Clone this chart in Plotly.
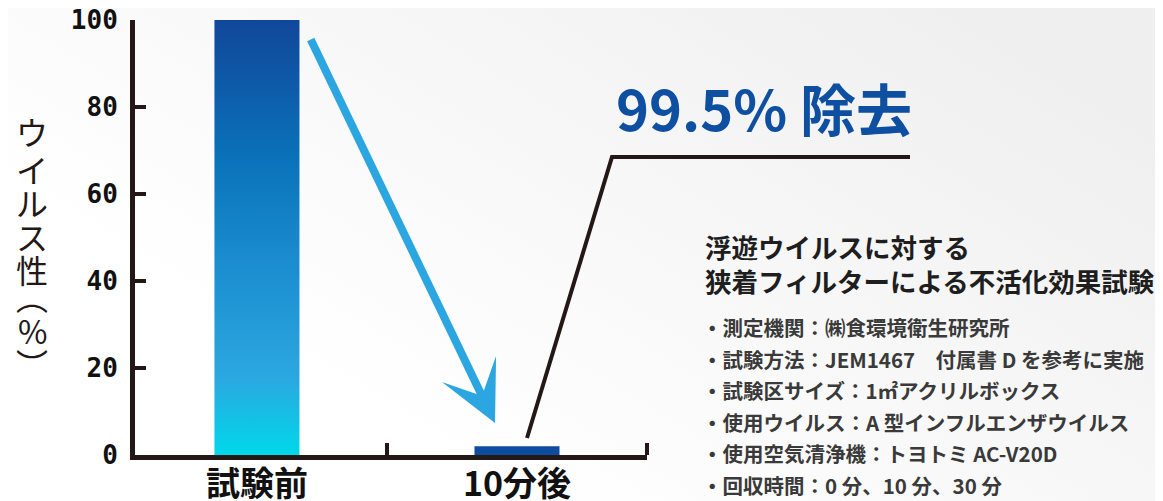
import base64
import plotly.graph_objects as go

# ---------------- data ----------------
categories = ["試験前", "10分後"]
virus_pct = [100, 2]           # (after-bar drawn ~2 units tall)
y_ticks = [0, 20, 40, 60, 80, 100]
y_title = "ウイルス性︵%︶"
headline = "99.5% 除去"
info_title = ["浮遊ウイルスに対する", "狭着フィルターによる不活化効果試験"]
info_items = [
    "・測定機関：㈱食環境衛生研究所",
    "・試験方法：JEM1467　付属書 D を参考に実施",
    "・試験区サイズ：1㎡アクリルボックス",
    "・使用ウイルス：A 型インフルエンザウイルス",
    "・使用空気清浄機：トヨトミ AC-V20D",
    "・回収時間：0 分、10 分、30 分",
]

# ---------------- layout geometry ----------------
W, H = 1163, 501
OFF = 8                       # page body offset of the figure
ML, MT = 135 - OFF, 20 - OFF
PLOT_R, PLOT_B = 647 - OFF, 455 - OFF
MR, MB = W - PLOT_R, H - PLOT_B
PW, PH = W - ML - MR, H - MT - MB
BAR_W = 0.327
X_RANGE = [-0.469, 1.5]

def px(x):
    return (x - OFF - ML) / PW

def py(y):
    return (PLOT_B - (y - OFF)) / PH

JP = "Noto Sans CJK JP"
DARK = "#231815"

bar_scales = [
    [[0, "#00D8EA"], [0.18, "#2BA7E0"], [0.45, "#1A8CCF"], [0.68, "#0A72BA"], [1, "#11479A"]],
    [[0, "#0D4C9E"], [1, "#0D4C9E"]],
]

fig = go.Figure()
for i, (cat, val) in enumerate(zip(categories, virus_pct)):
    fig.add_trace(go.Scatter(
        x=[i - BAR_W / 2, i + BAR_W / 2], y=[val, val],
        mode="lines", line=dict(width=0), fill="tozeroy",
        fillgradient=dict(type="vertical", colorscale=bar_scales[i]),
        name=cat, hoverinfo="skip", showlegend=False,
    ))

# background gradient image
svg = f'''<svg xmlns="http://www.w3.org/2000/svg" width="{W}" height="{H}" viewBox="0 0 {W} {H}">
<defs><linearGradient id="g" gradientUnits="userSpaceOnUse" x1="560" y1="520" x2="900" y2="-40">
<stop offset="0" stop-color="#ffffff"/><stop offset="1" stop-color="#efefef"/></linearGradient></defs>
<rect width="{W}" height="{H}" fill="url(#g)"/></svg>'''
src = "data:image/svg+xml;base64," + base64.b64encode(svg.encode()).decode()

annotations = []
# vertical y-axis title, one glyph per line
y_pos = [131, 169, 202, 236, 269, 296, 330, 363]
for ch, yy in zip(y_title, y_pos):
    annotations.append(dict(
        text=ch, x=px(32), y=py(yy), xref="paper", yref="paper",
        xanchor="center", yanchor="middle", showarrow=False,
        font=dict(family=JP, size=32, color="#231815"),
    ))

# headline
annotations.append(dict(
    text=headline, x=px(764), y=py(106), xref="paper", yref="paper",
    xanchor="center", yanchor="middle", showarrow=False,
    font=dict(family=JP, size=56, color="#0E4FA1", weight="bold"),
))
# info title
annotations.append(dict(
    text="<br>".join(info_title), x=px(703), y=py(263), xref="paper", yref="paper",
    xanchor="left", yanchor="middle", align="left", showarrow=False,
    font=dict(family=JP, size=26.5, color="#1e1e1e", weight="bold"),
))
# bullet lines
item_y = [327, 359, 390, 422, 453, 485]
for txt, yy in zip(info_items, item_y):
    annotations.append(dict(
        text=txt, x=px(700), y=py(yy), xref="paper", yref="paper",
        xanchor="left", yanchor="middle", align="left", showarrow=False,
        font=dict(family=JP, size=20.5, color="#3a3a3a", weight="bold"),
    ))

# blue arrow
annotations.append(dict(
    text="", x=px(495), y=py(423), xref="paper", yref="paper",
    ax=310 - 495, ay=38 - 423, showarrow=True,
    arrowhead=3, arrowsize=1.25, arrowwidth=8, arrowcolor="#2CA6E0",
))

shapes = [dict(
    type="path", xref="paper", yref="paper",
    path=f"M{px(527)},{py(438)} L{px(612)},{py(157)} L{px(910)},{py(157)}",
    line=dict(color=DARK, width=4),
)]

fig.update_layout(
    width=W, height=H,
    margin=dict(l=ML, r=MR, t=MT, b=MB, pad=0, autoexpand=False),
    paper_bgcolor="white", plot_bgcolor="rgba(0,0,0,0)",
    showlegend=False,
    images=[dict(source=src, xref="paper", yref="paper",
                 x=-ML / PW, y=1 + MT / PH, sizex=W / PW, sizey=H / PH,
                 xanchor="left", yanchor="top", sizing="stretch", layer="below")],
    annotations=annotations,
    shapes=shapes,
    xaxis=dict(
        range=X_RANGE, tickvals=list(range(len(categories))), ticktext=categories,
        showgrid=False, zeroline=False, showline=True, linewidth=5, linecolor=DARK,
        ticks="", ticklabelstandoff=-5, ticklabeloverflow="allow",
        tickfont=dict(family=JP, size=34, color="#111", weight="bold"),
        minor=dict(tickvals=[0.5, 1.5], ticks="inside", ticklen=12, tickwidth=4, tickcolor=DARK),
        fixedrange=True, automargin=False,
    ),
    yaxis=dict(
        range=[0, 100], tickvals=y_ticks,
        showgrid=False, zeroline=False, showline=True, linewidth=5, linecolor=DARK,
        ticks="inside", ticklen=11, tickwidth=4, tickcolor=DARK, ticklabelstandoff=7,
        ticklabeloverflow="allow",
        tickfont=dict(family="DejaVu Sans Mono", size=26, color="#111", weight="bold"),
        fixedrange=True, automargin=False,
    ),
)

fig.write_html("out.html")
